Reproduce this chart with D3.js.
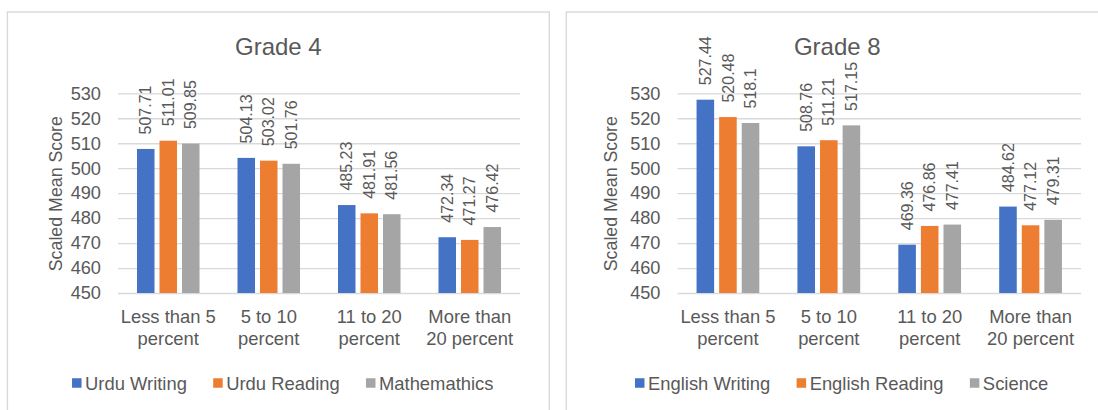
<!DOCTYPE html>
<html>
<head>
<meta charset="utf-8">
<script src="https://cdn.jsdelivr.net/npm/d3@7"></script>
<style>
  html, body { margin: 0; padding: 0; background: #fff; }
  svg { display: block; }
  text { font-family: "Liberation Sans", Arial, sans-serif; fill: #595959; }
</style>
</head>
<body>
<svg id="chart" width="1098" height="410"></svg>
<script>
// Categories: share of students (percent) in each band
const categories = [["Less than 5", "percent"], ["5 to 10", "percent"], ["11 to 20", "percent"], ["More than", "20 percent"]];
const yTicks = [450, 460, 470, 480, 490, 500, 510, 520, 530];
const yDomain = [450, 530];
const colors = ["#4472C4", "#ED7D31", "#A5A5A5"];

// Grade 4 scaled mean scores
const grade4Series = ["Urdu Writing", "Urdu Reading", "Mathemathics"];
const grade4UrduWriting = [507.71, 504.13, 485.23, 472.34];
const grade4UrduReading = [511.01, 503.02, 481.91, 471.27];
const grade4Mathematics = [509.85, 501.76, 481.56, 476.42];

// Grade 8 scaled mean scores
const grade8Series = ["English Writing", "English Reading", "Science"];
const grade8EnglishWriting = [527.44, 508.76, 469.36, 484.62];
const grade8EnglishReading = [520.48, 511.21, 476.86, 477.12];
const grade8Science = [518.1, 517.15, 477.41, 479.31];

const panels = [
  { title: "Grade 4", series: grade4Series,
    values: [grade4UrduWriting, grade4UrduReading, grade4Mathematics],
    frame: { x: 7.4, w: 541.9 }, plot: { x0: 118, x1: 520 }, yTitleX: 62.3 },
  { title: "Grade 8", series: grade8Series,
    values: [grade8EnglishWriting, grade8EnglishReading, grade8Science],
    frame: { x: 566.3, w: 541.9 }, plot: { x0: 677.5, x1: 1081 }, yTitleX: 617 }
];

const svg = d3.select("#chart");
const plotTop = 93.3, plotBottom = 293;

panels.forEach(p => {
  const g = svg.append("g");
  const cx = p.frame.x + p.frame.w / 2;

  // chart frame
  g.append("rect")
    .attr("x", p.frame.x).attr("y", 12)
    .attr("width", p.frame.w).attr("height", 420)
    .attr("fill", "#fff").attr("stroke", "#d9d9d9").attr("stroke-width", 1.4);

  // title
  g.append("text")
    .attr("x", cx).attr("y", 55)
    .attr("text-anchor", "middle")
    .style("font-size", "24px")
    .text(p.title);

  const x0 = d3.scaleBand().domain(d3.range(categories.length))
    .range([p.plot.x0, p.plot.x1]).paddingInner(0).paddingOuter(0);
  const bw = x0.bandwidth();
  const x1 = d3.scaleBand().domain(d3.range(p.series.length))
    .range([bw / 2 - bw * 0.311, bw / 2 + bw * 0.311])
    .paddingInner(0.222).paddingOuter(0);
  const y = d3.scaleLinear().domain(yDomain).range([plotBottom, plotTop]);

  // y axis with gridlines
  const yAxis = g.append("g")
    .attr("transform", `translate(${p.plot.x0},0)`)
    .call(d3.axisLeft(y).tickValues(yTicks).tickSize(-(p.plot.x1 - p.plot.x0)).tickPadding(17));
  yAxis.select(".domain").remove();
  yAxis.selectAll(".tick line").attr("stroke", "#d9d9d9").attr("stroke-width", 1.3);
  yAxis.selectAll(".tick text")
    .style("font-size", "18.2px").style("font-family", "'Liberation Sans', Arial, sans-serif")
    .attr("fill", "#595959");

  // y axis title
  g.append("text")
    .attr("transform", `translate(${p.yTitleX},${(plotTop + plotBottom) / 2 + 0.5}) rotate(-90)`)
    .attr("text-anchor", "middle")
    .style("font-size", "17.8px")
    .text("Scaled Mean Score");

  // bars and value labels
  p.values.forEach((vals, si) => {
    const sg = g.append("g");
    sg.selectAll("rect").data(vals).join("rect")
      .attr("x", (d, i) => x0(i) + x1(si))
      .attr("width", x1.bandwidth())
      .attr("y", d => y(d))
      .attr("height", d => y(yDomain[0]) - y(d))
      .attr("fill", colors[si]);
    sg.selectAll("text").data(vals).join("text")
      .attr("transform", (d, i) => `translate(${x0(i) + x1(si) + x1.bandwidth() / 2},${y(d) - 14.5}) rotate(-90)`)
      .attr("dy", "0.35em")
      .style("font-size", "16px")
      .text(d => String(d));
  });

  // category labels
  const xl = g.append("g");
  categories.forEach((lines, i) => {
    const t = xl.append("text")
      .attr("x", x0(i) + bw / 2).attr("y", 323)
      .attr("text-anchor", "middle")
      .style("font-size", "18.4px");
    lines.forEach((ln, k) => {
      t.append("tspan").attr("x", x0(i) + bw / 2).attr("y", 323 + k * 21.6).text(ln);
    });
  });

  // legend
  const lg = g.append("g");
  const sq = 9.5, gapText = 3.5, gapItem = 26.3;
  const items = p.series.map((name, si) => {
    const it = lg.append("g");
    it.append("rect").attr("width", sq).attr("height", sq).attr("y", 383 - sq / 2).attr("fill", colors[si]);
    const t = it.append("text").attr("x", sq + gapText).attr("y", 389.5)
      .style("font-size", "18.4px").text(name);
    return { it, w: sq + gapText + t.node().getComputedTextLength() };
  });
  const total = d3.sum(items, d => d.w) + gapItem * (items.length - 1);
  let xs = cx + 4.4 - total / 2;
  items.forEach(d => {
    d.it.attr("transform", `translate(${xs},0)`);
    xs += d.w + gapItem;
  });
});
</script>
</body>
</html>
